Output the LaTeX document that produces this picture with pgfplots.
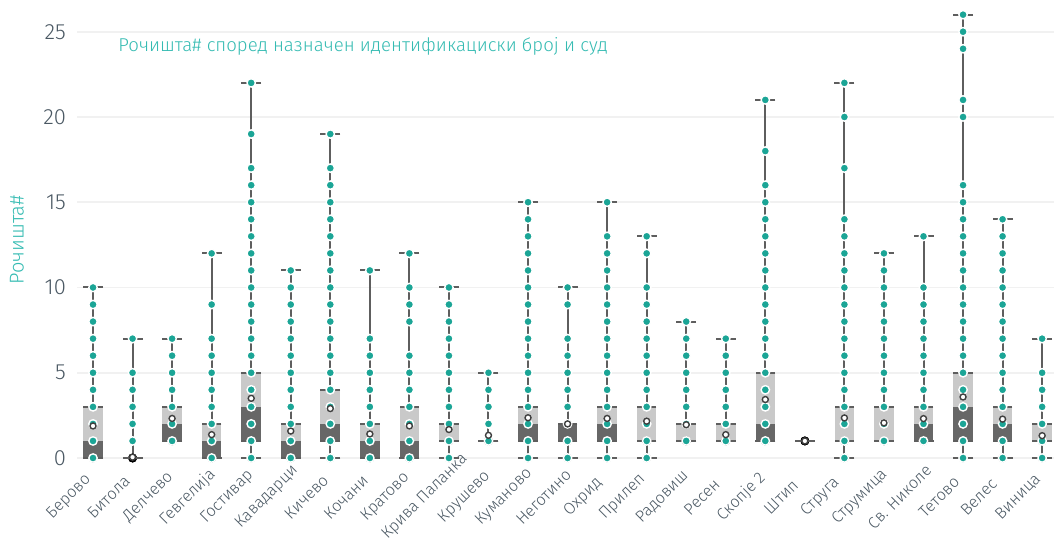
\documentclass[border=0pt]{standalone}
\usepackage{pgfplots}
\pgfplotsset{compat=1.18}
\usepackage{pgfplotstable}
\usepackage{fontspec}
\setmainfont{Fira Sans Light}
\definecolor{teal1}{HTML}{1BA596}
\definecolor{titlec}{HTML}{35BBB2}
\definecolor{darkbox}{HTML}{676767}
\definecolor{lightbox}{HTML}{C9C9C9}
\definecolor{whisk}{HTML}{5E5E5E}
\definecolor{tickc}{HTML}{4A5863}
\definecolor{gridc}{HTML}{F1F1F1}

\pgfplotstableread{
x min q1 med q3 max mean
0 0 0 1 3 10 1.88
1 0 0 0 0 7 0.05
2 1 1 2 3 7 2.32
3 0 0 1 2 12 1.37
4 0 1 3 5 22 3.50
5 0 0 1 2 11 1.58
6 0 1 2 4 19 2.90
7 0 0 1 2 11 1.41
8 0 0 1 3 12 1.88
9 0 1 1 2 10 1.67
10 1 1 1 1 5 1.33
11 0 1 2 3 15 2.36
12 0 1 2 2 10 2.00
13 0 1 2 3 15 2.32
14 0 1 1 3 13 2.16
15 1 1 1 2 8 1.95
16 1 1 1 2 7 1.37
17 1 1 2 5 21 3.43
18 1 1 1 1 1 1.00
19 0 1 1 3 22 2.35
20 1 1 1 3 12 2.06
21 1 1 2 3 13 2.31
22 0 1 3 5 26 3.58
23 0 1 2 3 14 2.28
24 0 1 1 2 7 1.31
}\stats

\begin{document}
\begin{tikzpicture}
\path[use as bounding box] (-38.5pt,-41.5pt) rectangle (488.5pt,229pt);
\begin{axis}[
  at={(0pt,0pt)}, anchor=south west,
  scale only axis, width=488.5pt, height=229pt,
  xmin=-0.405, xmax=24.3, ymin=0, ymax=26.86,
  clip=false,
  axis line style={draw=none},
  major tick length=0pt,
  ytick={0,5,10,15,20,25},
  ymajorgrids, grid style={gridc, line width=0.8pt},
  xtick={0,...,24},
  xticklabels={Берово,Битола,Делчево,Гевгелија,Гостивар,Кавадарци,Кичево,Кочани,Кратово,Крива Паланка,Крушево,Куманово,Неготино,Охрид,Прилеп,Радовиш,Ресен,Скопје 2,Штип,Струга,Струмица,Св. Николе,Тетово,Велес,Виница},
  xticklabel style={xshift=-12pt, yshift=-19.5pt, rotate=45, anchor=center, font=\fontsize{8.1}{9}\selectfont, text=tickc, inner sep=0pt},
  yticklabel style={font=\fontsize{11}{12}\selectfont, text=tickc, xshift=-2pt},
  /pgf/number format/assume math mode=true,
]
% whiskers
\addplot[only marks, mark=none, forget plot,
  error bars/.cd, y dir=plus, y explicit, error mark=none,
  error bar style={line width=1pt, draw=whisk}]
  table[x=x, y=min, y error expr=\thisrow{max}-\thisrow{min}] {\stats};
% lower box (q1 - median)
\addplot[only marks, mark=none, forget plot,
  error bars/.cd, y dir=plus, y explicit, error mark=none,
  error bar style={line width=9.8pt, draw=darkbox}]
  table[x=x, y=q1, y error expr=\thisrow{med}-\thisrow{q1}] {\stats};
% upper box (median - q3)
\addplot[only marks, mark=none, forget plot,
  error bars/.cd, y dir=plus, y explicit, error mark=none,
  error bar style={line width=9.8pt, draw=lightbox}]
  table[x=x, y=med, y error expr=\thisrow{q3}-\thisrow{med}] {\stats};
% caps and box edges
\addplot[only marks, mark=-, mark size=5pt, mark options={draw=whisk, line width=1pt}] table[x=x, y=max] {\stats};
\addplot[only marks, mark=-, mark size=5pt, mark options={draw=whisk, line width=1pt}] table[x=x, y=min] {\stats};
\addplot[only marks, mark=-, mark size=4.9pt, mark options={draw=whisk, line width=0.8pt}] table[x=x, y=q3] {\stats};
\addplot[only marks, mark=-, mark size=4.9pt, mark options={draw=whisk, line width=0.8pt}] table[x=x, y=q1] {\stats};
% individual values
\addplot[only marks, mark=*, mark size=2.1pt, mark options={fill=teal1, draw=white, line width=0.7pt}] coordinates {
(0,0)(0,1)(0,2)(0,3)(0,4)(0,5)(0,6)(0,7)(0,8)(0,9)(0,10)
(1,1)(1,2)(1,3)(1,4)(1,5)(1,7)
(2,1)(2,2)(2,3)(2,4)(2,5)(2,6)(2,7)
(3,0)(3,1)(3,2)(3,3)(3,4)(3,5)(3,6)(3,7)(3,9)(3,12)
(4,0)(4,1)(4,2)(4,3)(4,4)(4,5)(4,6)(4,7)(4,8)(4,9)(4,10)(4,11)(4,12)(4,13)(4,14)(4,15)(4,16)(4,17)(4,19)(4,22)
(5,0)(5,1)(5,2)(5,3)(5,4)(5,5)(5,6)(5,7)(5,8)(5,9)(5,10)(5,11)
(6,0)(6,1)(6,2)(6,3)(6,4)(6,5)(6,6)(6,7)(6,8)(6,9)(6,10)(6,11)(6,12)(6,13)(6,14)(6,15)(6,16)(6,17)(6,19)
(7,0)(7,1)(7,2)(7,3)(7,4)(7,5)(7,6)(7,7)(7,11)
(8,0)(8,1)(8,2)(8,3)(8,4)(8,5)(8,6)(8,8)(8,9)(8,10)(8,12)
(9,0)(9,1)(9,2)(9,3)(9,4)(9,5)(9,6)(9,7)(9,8)(9,9)(9,10)
(10,1)(10,2)(10,3)(10,4)(10,5)
(11,0)(11,1)(11,2)(11,3)(11,4)(11,5)(11,6)(11,7)(11,8)(11,9)(11,10)(11,11)(11,12)(11,13)(11,14)(11,15)
(12,0)(12,1)(12,2)(12,3)(12,4)(12,5)(12,6)(12,7)(12,9)(12,10)
(13,0)(13,1)(13,2)(13,3)(13,4)(13,5)(13,6)(13,7)(13,8)(13,9)(13,10)(13,11)(13,12)(13,13)(13,15)
(14,0)(14,1)(14,2)(14,3)(14,4)(14,5)(14,6)(14,7)(14,8)(14,9)(14,10)(14,12)(14,13)
(15,1)(15,2)(15,3)(15,4)(15,5)(15,6)(15,7)(15,8)
(16,1)(16,2)(16,3)(16,4)(16,5)(16,6)(16,7)
(17,1)(17,2)(17,3)(17,4)(17,5)(17,6)(17,7)(17,8)(17,9)(17,10)(17,11)(17,12)(17,13)(17,14)(17,15)(17,16)(17,18)(17,21)
(19,0)(19,1)(19,2)(19,3)(19,4)(19,5)(19,6)(19,7)(19,8)(19,9)(19,10)(19,11)(19,12)(19,13)(19,14)(19,17)(19,20)(19,22)
(20,1)(20,2)(20,3)(20,4)(20,5)(20,6)(20,7)(20,8)(20,9)(20,10)(20,11)(20,12)
(21,1)(21,2)(21,3)(21,4)(21,5)(21,6)(21,7)(21,8)(21,9)(21,10)(21,13)
(22,0)(22,1)(22,2)(22,3)(22,4)(22,5)(22,6)(22,7)(22,8)(22,9)(22,10)(22,11)(22,12)(22,13)(22,14)(22,15)(22,16)(22,20)(22,21)(22,24)(22,25)(22,26)
(23,0)(23,1)(23,2)(23,3)(23,4)(23,5)(23,6)(23,7)(23,8)(23,9)(23,10)(23,11)(23,12)(23,13)(23,14)
(24,0)(24,1)(24,2)(24,3)(24,4)(24,5)(24,7)
};
% means
\addplot[only marks, mark=*, mark size=1.5pt, mark options={fill=white, draw=black!75, line width=0.7pt}] table[x=x, y=mean] {\stats};
\end{axis}
\node[anchor=base west, text=titlec, font=\fontsize{9.3}{11}\selectfont, inner sep=0pt] at (20.5pt,203pt) {Рочишта\# според назначен идентификациски број и суд};
\node[rotate=90, text=titlec, font=\fontsize{10}{12}\selectfont, inner sep=0pt] at (-30pt,109pt) {Рочишта\#};
\end{tikzpicture}
\end{document}
